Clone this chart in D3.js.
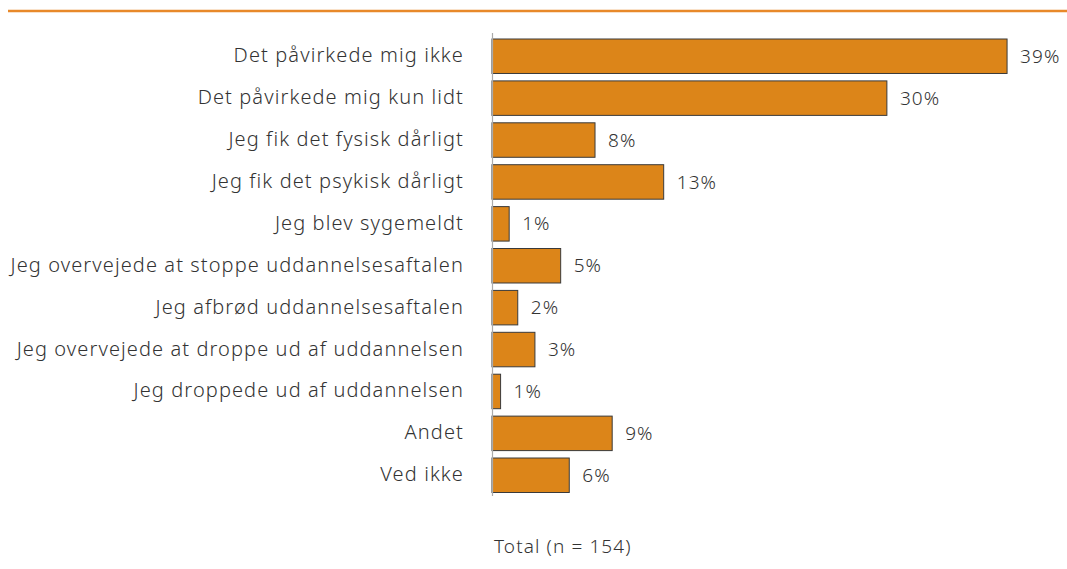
<!DOCTYPE html>
<html>
<head>
<meta charset="utf-8">
<script src="https://cdn.jsdelivr.net/npm/d3@7"></script>
<style>
  body { margin: 0; background: #fff; }
  text { font-family: "Noto Sans", sans-serif; font-weight: 300; letter-spacing: 1.1px; }
</style>
</head>
<body>
<div id="chart"></div>
<script>
// answers and counts (n = 154)
var categories = [
  "Det påvirkede mig ikke",
  "Det påvirkede mig kun lidt",
  "Jeg fik det fysisk dårligt",
  "Jeg fik det psykisk dårligt",
  "Jeg blev sygemeldt",
  "Jeg overvejede at stoppe uddannelsesaftalen",
  "Jeg afbrød uddannelsesaftalen",
  "Jeg overvejede at droppe ud af uddannelsen",
  "Jeg droppede ud af uddannelsen",
  "Andet",
  "Ved ikke"
];
var counts = [60, 46, 12, 20, 2, 8, 3, 5, 1, 14, 9];
var total = 154;
var footnote = "Total (n = 154)";

var data = categories.map(function(c, i) {
  return { name: c, value: counts[i] / total };
});

var width = 1067, height = 569;
var left = 492;

var svg = d3.select("#chart")
  .append("svg")
    .attr("width", width)
    .attr("height", height);

// orange line on top
svg.append("line")
  .attr("x1", 8).attr("x2", width)
  .attr("y1", 11).attr("y2", 11)
  .attr("stroke", "#e8892a")
  .attr("stroke-width", 2.5);

var x = d3.scaleLinear()
  .domain([0, 0.4])
  .range([left, left + 528.8]);

var y = d3.scaleBand()
  .domain(categories)
  .range([39, 492.5])
  .paddingInner(0.177)
  .paddingOuter(0);

// bars
svg.append("g").selectAll(".bar")
    .data(data)
  .enter().append("rect")
    .attr("class", "bar")
    .attr("x", x(0))
    .attr("y", function(d) { return y(d.name); })
    .attr("width", function(d) { return x(d.value) - x(0); })
    .attr("height", y.bandwidth())
    .attr("fill", "#dc8519")
    .attr("stroke", "#3a3a3a")
    .attr("stroke-width", 1);

// axis line
svg.append("line")
  .attr("x1", left + 0.5).attr("x2", left + 0.5)
  .attr("y1", 33).attr("y2", 496)
  .attr("stroke", "#aaaaaa")
  .attr("stroke-width", 1.2);

// category labels
svg.append("g").selectAll("text")
    .data(data)
  .enter().append("text")
    .attr("x", 464)
    .attr("y", function(d) { return y(d.name) + y.bandwidth() / 2 - 1; })
    .attr("dy", "0.35em")
    .attr("text-anchor", "end")
    .attr("font-size", 20)
    .attr("fill", "#333")
    .text(function(d) { return d.name; });

// value labels
svg.append("g").selectAll("text")
    .data(data)
  .enter().append("text")
    .attr("x", function(d) { return x(d.value) + 13; })
    .attr("y", function(d) { return y(d.name) + y.bandwidth() / 2; })
    .attr("dy", "0.35em")
    .attr("font-size", 19)
    .attr("fill", "#333")
    .text(function(d) { return Math.round(d.value * 100) + "%"; });

svg.append("text")
  .attr("x", 494)
  .attr("y", 546)
  .attr("dy", "0.35em")
  .attr("font-size", 19)
  .attr("fill", "#333")
  .text(footnote);
</script>
</body>
</html>
